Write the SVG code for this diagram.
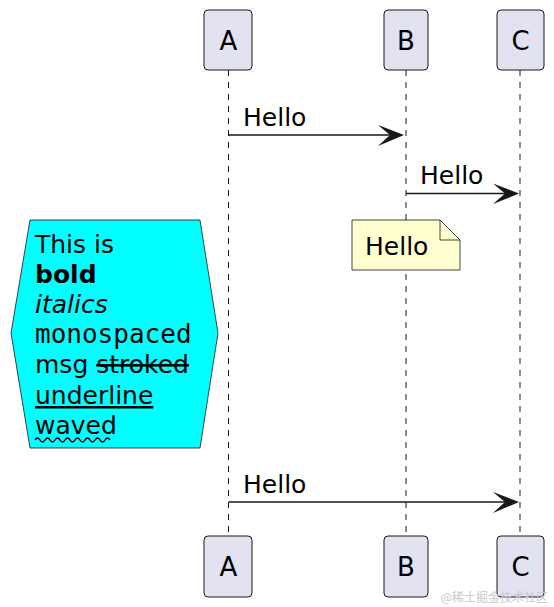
<svg xmlns="http://www.w3.org/2000/svg" width="554" height="607" viewBox="0 0 554 607">
<style>
.part{fill:#E2E2F0;stroke:#181818;stroke-width:1}
.life{stroke:#181818;stroke-width:1;stroke-dasharray:6,6}
.msg{stroke:#181818;stroke-width:1.5;fill:none}
.head{fill:#181818}
.t{font-family:"DejaVu Sans",sans-serif;font-size:25px;fill:#000}
.pl{font-family:"DejaVu Sans",sans-serif;font-size:26px;fill:#000;text-anchor:middle}
</style>
<rect width="554" height="607" fill="#fff"/>
<g id="lifelines">
<line class="life" x1="228.5" y1="70" x2="228.5" y2="536"/>
<line class="life" x1="406" y1="70" x2="406" y2="536"/>
<line class="life" x1="520" y1="70" x2="520" y2="536"/>
</g>
<g id="A"><rect class="part" x="204" y="10" width="48" height="60" rx="4"/><text class="pl" x="228.5" y="50">A</text></g>
<g id="B"><rect class="part" x="384" y="10" width="44" height="60" rx="4"/><text class="pl" x="406" y="50">B</text></g>
<g id="C"><rect class="part" x="497" y="10" width="47" height="60" rx="4"/><text class="pl" x="520.5" y="50">C</text></g>
<g id="A2"><rect class="part" x="204" y="536" width="48" height="61" rx="4"/><text class="pl" x="228.5" y="576">A</text></g>
<g id="B2"><rect class="part" x="384" y="536" width="44" height="61" rx="4"/><text class="pl" x="406" y="576">B</text></g>
<g id="C2"><rect class="part" x="497" y="536" width="47" height="61" rx="4"/><text class="pl" x="520.5" y="576">C</text></g>
<g id="connectors">
<line class="msg" x1="228.5" y1="135" x2="398" y2="135"/>
<polygon class="head" points="404,135 378,125 390,135 378,146"/>
<text class="t" x="243" y="126">Hello</text>
<line class="msg" x1="406" y1="193.5" x2="513" y2="193.5"/>
<polygon class="head" points="519,193.5 493,183.5 505,193.5 493,204"/>
<text class="t" x="420" y="184">Hello</text>
<line class="msg" x1="228.5" y1="502" x2="513" y2="502"/>
<polygon class="head" points="519,502 493,492 505,502 493,513"/>
<text class="t" x="243" y="493">Hello</text>
</g>
<g id="note">
<path d="M352,220 L440,220 L460,240 L460,270 L352,270 Z" fill="#FEFECE" stroke="#181818" stroke-width="0.8"/>
<path d="M440,220 L440,240 L460,240" fill="none" stroke="#181818" stroke-width="0.8"/>
<text class="t" x="365" y="255">Hello</text>
</g>
<g id="hexnote">
<polygon points="30,220 200,220 218,333 200,448 30,448 11,333" fill="#00FFFF" stroke="#181818" stroke-width="0.8"/>
<text class="t" x="35" y="253">This is</text>
<text class="t" x="35" y="283" font-weight="bold">bold</text>
<text class="t" x="35" y="313" font-style="italic">italics</text>
<text class="t" x="35" y="343" style="font-family:'DejaVu Sans Mono',monospace;font-size:26px">monospaced</text>
<text class="t" x="35" y="373">msg <tspan text-decoration="line-through">stroked</tspan></text>
<text class="t" x="35" y="404" text-decoration="underline">underline</text>
<text class="t" x="35" y="434">waved</text>
<path d="M35,440 q2.5,-4 5,0 t5,0 t5,0 t5,0 t5,0 t5,0 t5,0 t5,0 t5,0 t5,0 t5,0 t5,0 t5,0 t5,0 t5,0" fill="none" stroke="#000" stroke-width="1.4"/>
</g>
<text x="548" y="602" text-anchor="end" font-family="'Noto Sans CJK SC',sans-serif" font-size="12" fill="#c8c8c8">@稀土掘金技术社区</text>
</svg>
